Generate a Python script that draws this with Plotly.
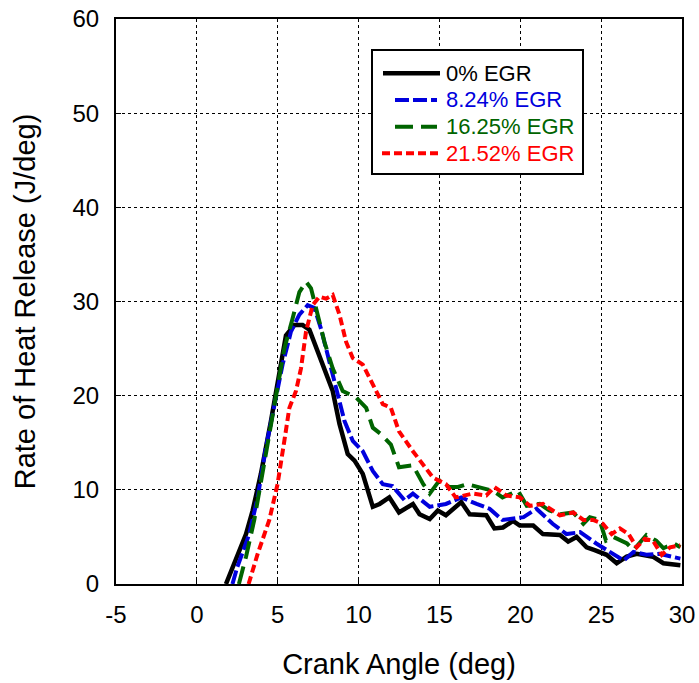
import plotly.graph_objects as go

x0 = [1.8, 2.42, 3.04, 3.45, 3.96, 4.58, 5.2, 5.51, 6.03, 6.54, 6.96, 7.47, 7.99, 8.4, 8.82, 9.33, 9.75, 10.26, 10.88, 11.3, 11.9, 12.5, 13.36, 13.77, 14.4, 14.9, 15.4, 16.35, 16.87, 17.9, 18.4, 18.93, 19.55, 19.97, 20.8, 21.4, 22.45, 22.96, 23.48, 24.1, 24.6, 25.34, 25.96, 26.58, 27.2, 28.2, 28.85, 29.9]
y0 = [0, 2.5, 5.3, 7.8, 11.7, 17.3, 23.6, 26.4, 27.5, 27.5, 27.0, 24.7, 22.2, 20.5, 17.0, 13.8, 13.1, 11.7, 8.2, 8.5, 9.2, 7.6, 8.5, 7.4, 6.9, 7.8, 7.3, 8.7, 7.4, 7.3, 5.9, 6.0, 6.7, 6.2, 6.2, 5.3, 5.2, 4.5, 5.0, 3.9, 3.6, 3.1, 2.2, 2.9, 3.2, 2.9, 2.2, 2.0]

x1 = [2.2, 2.5, 3.24, 3.76, 4.27, 4.79, 5.3, 5.82, 6.34, 6.85, 7.27, 7.68, 8.1, 8.6, 9.13, 9.64, 10.26, 10.88, 11.5, 12.1, 12.33, 12.84, 13.36, 14.4, 15.4, 16.35, 17.3, 18.1, 18.9, 20.2, 21.0, 22.0, 22.86, 23.7, 24.7, 25.75, 26.4, 27.0, 27.8, 28.6, 29.26, 29.9]
y1 = [0, 1.8, 5.3, 9.2, 14.5, 18.7, 23.3, 26.8, 28.6, 29.6, 29.3, 27.1, 24.3, 20.8, 17.3, 15.2, 14.1, 12.0, 10.6, 10.4, 9.9, 8.9, 9.6, 8.2, 8.5, 9.2, 8.5, 8.0, 6.8, 7.1, 8.0, 6.4, 5.3, 5.5, 4.3, 3.2, 2.5, 3.4, 3.1, 3.2, 2.9, 2.7]

x2 = [2.6, 3.04, 3.55, 4.06, 4.48, 4.99, 5.41, 5.92, 6.34, 6.75, 7.06, 7.47, 7.89, 8.4, 9.02, 9.85, 10.47, 10.88, 11.4, 12.0, 12.5, 13.36, 14.0, 14.4, 15.0, 15.6, 16.15, 16.7, 17.3, 18.3, 18.9, 19.86, 20.4, 21.2, 21.8, 22.45, 23.27, 23.9, 24.3, 24.9, 25.3, 25.75, 26.6, 27.0, 27.8, 28.4, 28.85, 29.5, 29.9]
y2 = [0, 2.9, 6.8, 11.7, 15.9, 21.2, 25.0, 28.2, 31.0, 32.1, 31.4, 28.6, 25.7, 22.9, 20.5, 19.8, 18.7, 16.6, 15.9, 14.8, 12.4, 12.6, 10.6, 9.6, 11.0, 10.3, 10.3, 10.6, 10.3, 9.9, 9.2, 9.9, 8.3, 8.5, 7.8, 7.4, 7.6, 6.4, 7.1, 6.8, 4.6, 5.0, 4.3, 3.6, 5.2, 4.6, 3.8, 4.3, 3.9]

x3 = [3.2, 3.76, 4.48, 4.99, 5.41, 5.72, 6.13, 6.44, 6.75, 7.16, 7.58, 7.99, 8.4, 8.82, 9.23, 9.64, 10.26, 10.88, 11.5, 12.0, 12.5, 13.36, 14.0, 14.6, 15.4, 16.0, 17.07, 17.9, 18.4, 19.14, 19.97, 20.6, 21.4, 22.45, 23.27, 23.9, 24.5, 25.1, 25.65, 26.16, 26.7, 27.2, 27.7, 28.2, 28.75, 29.26, 29.9]
y3 = [0, 3.2, 6.8, 10.6, 15.2, 18.7, 20.5, 22.9, 26.8, 29.6, 30.5, 30.3, 30.7, 28.6, 25.7, 24.0, 23.3, 21.2, 19.1, 18.7, 16.2, 14.1, 12.7, 11.3, 10.6, 9.2, 9.6, 9.4, 10.3, 9.4, 9.2, 8.3, 8.5, 7.3, 7.6, 6.8, 6.8, 6.4, 5.3, 5.9, 5.3, 3.9, 4.8, 4.6, 3.1, 3.9, 4.1]

names = ["0% EGR", "8.24% EGR", "16.25% EGR", "21.52% EGR"]
colors = ["#000000", "#0000dd", "#006400", "#ff0000"]
dashes = ["solid", "14px,4px", "18px,8px", "8px,4px"]
widths = [4.5, 4, 4, 4]
xs = [x0, x1, x2, x3]
ys = [y0, y1, y2, y3]

x_ticks = [-5, 0, 5, 10, 15, 20, 25, 30]
x_ticktext = ["-5", "0", "5", "10", "15", "20", "25", "30"]
y_ticks = [0, 10, 20, 30, 40, 50, 60]

W, H = 699, 683
L, R, T, B = 116, 17, 19, 99
PW, PH = W - L - R, H - T - B


def px(xp):
    return (xp - L) / PW


def py(yp):
    return (H - B - yp) / PH


fig = go.Figure()
for xv, yv, nm, c, d, w in zip(xs, ys, names, colors, dashes, widths):
    fig.add_trace(go.Scatter(
        x=xv, y=yv, mode="lines", name=nm,
        line=dict(color=c, width=w, dash=d),
        showlegend=False,
    ))

# legend drawn as box, line samples and coloured labels
shapes = [dict(type="rect", xref="paper", yref="paper",
               x0=px(372), x1=px(583), y0=py(174), y1=py(50),
               line=dict(color="black", width=2), fillcolor="white", layer="above")]
annots = []
row_y = [73.3, 100, 126.7, 153.3]
seg = [(383, 440), (395, 437), (395, 437), (382, 440)]
for i in range(4):
    shapes.append(dict(type="line", xref="paper", yref="paper",
                       x0=px(seg[i][0]), x1=px(seg[i][1]), y0=py(row_y[i]), y1=py(row_y[i]),
                       line=dict(color=colors[i], width=widths[i], dash=dashes[i]), layer="above"))
    annots.append(dict(xref="paper", yref="paper", x=px(444), y=py(row_y[i]),
                       xanchor="left", yanchor="middle", text=names[i], showarrow=False,
                       font=dict(size=22, color=colors[i])))

fig.update_layout(
    width=W, height=H,
    margin=dict(l=L, r=R, t=T, b=B),
    paper_bgcolor="white", plot_bgcolor="white",
    font=dict(family="Liberation Sans, Arial, sans-serif", size=24, color="black"),
    showlegend=False,
    shapes=shapes, annotations=annots,
)
fig.update_xaxes(
    range=[-5, 30], tickvals=x_ticks, ticktext=x_ticktext,
    showgrid=True, gridcolor="black", griddash="dot", gridwidth=1,
    showline=True, linecolor="black", linewidth=2, mirror=True,
    ticks="inside", ticklen=5, tickcolor="black", ticklabelstandoff=8,
    zeroline=False, automargin=False,
    title=dict(text="Crank Angle (deg)", standoff=27),
)
fig.update_yaxes(
    range=[0, 60], tickvals=y_ticks,
    showgrid=True, gridcolor="black", griddash="dot", gridwidth=1,
    showline=True, linecolor="black", linewidth=2, mirror=True,
    ticks="inside", ticklen=5, tickcolor="black", ticklabelstandoff=10,
    zeroline=False, automargin=False,
    title=dict(text="Rate of Heat Release (J/deg)", standoff=28),
)

fig.write_html("out.html", config={"displayModeBar": False},
               post_script="document.body.style.margin='0px';")
